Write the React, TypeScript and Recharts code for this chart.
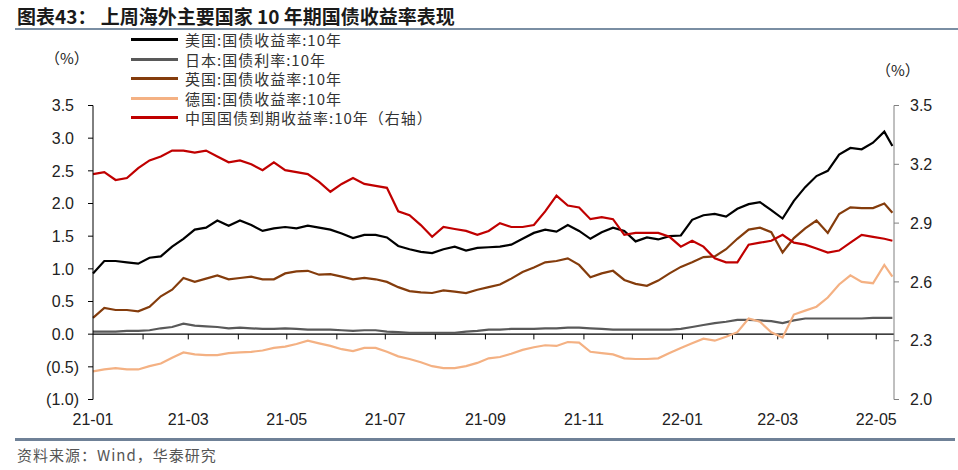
import { LineChart, Line, XAxis, YAxis, ReferenceLine, Legend } from "recharts";

// weekly samples, first point 2021-01-01, last point 2022-05-11
const startDate = "2021-01-01";
const lastDate = "2022-05-11";

const usYield = [
  0.93, 1.12, 1.12, 1.1, 1.08, 1.17, 1.19, 1.34, 1.46, 1.6, 1.63, 1.74, 1.66, 1.74, 1.67, 1.58, 1.62, 1.64,
  1.62, 1.66, 1.63, 1.6, 1.54, 1.47, 1.52, 1.52, 1.48, 1.35, 1.3, 1.26, 1.24, 1.3, 1.34, 1.28, 1.32, 1.33,
  1.34, 1.37, 1.46, 1.55, 1.6, 1.57, 1.67, 1.58, 1.46, 1.56, 1.63, 1.58, 1.42, 1.48, 1.45, 1.5, 1.51, 1.75,
  1.82, 1.84, 1.8, 1.92, 1.99, 2.02, 1.9, 1.77, 2.04, 2.25, 2.42, 2.5, 2.75, 2.85, 2.83, 2.93, 3.1, 2.88,
];
const japanYield = [
  0.04, 0.04, 0.04, 0.05, 0.05, 0.06, 0.09, 0.11, 0.16, 0.13, 0.12, 0.11, 0.09, 0.1, 0.09, 0.08, 0.08, 0.09,
  0.08, 0.07, 0.07, 0.07, 0.06, 0.05, 0.06, 0.06, 0.04, 0.03, 0.02, 0.02, 0.02, 0.02, 0.02, 0.04, 0.05, 0.07,
  0.07, 0.08, 0.08, 0.08, 0.09, 0.09, 0.1, 0.1, 0.09, 0.08, 0.07, 0.07, 0.07, 0.07, 0.07, 0.07, 0.08, 0.11,
  0.14, 0.17, 0.19, 0.22, 0.22, 0.21, 0.2, 0.17, 0.21, 0.24, 0.24, 0.24, 0.24, 0.24, 0.24, 0.25, 0.25, 0.25,
];
const ukYield = [
  0.25, 0.4, 0.37, 0.37, 0.35, 0.42, 0.58, 0.68, 0.86, 0.8, 0.85, 0.9, 0.84, 0.86, 0.88, 0.84, 0.84, 0.93,
  0.96, 0.97, 0.91, 0.92, 0.88, 0.84, 0.86, 0.84, 0.8, 0.72, 0.66, 0.64, 0.63, 0.67, 0.65, 0.63, 0.68, 0.72,
  0.76, 0.85, 0.95, 1.02, 1.1, 1.12, 1.16, 1.06, 0.87, 0.93, 0.97, 0.83, 0.77, 0.74, 0.82, 0.93, 1.03, 1.1,
  1.18, 1.19, 1.3, 1.46, 1.6, 1.63, 1.56, 1.25, 1.47, 1.62, 1.74, 1.55, 1.84, 1.94, 1.93, 1.93, 2.0, 1.86,
];
const germanyYield = [
  -0.57, -0.54, -0.52, -0.54, -0.54, -0.49, -0.45, -0.36, -0.28, -0.31, -0.32, -0.32, -0.29, -0.28, -0.27,
  -0.25, -0.21, -0.19, -0.15, -0.1, -0.14, -0.18, -0.23, -0.26, -0.21, -0.21, -0.27, -0.34, -0.38, -0.43,
  -0.49, -0.52, -0.52, -0.49, -0.44, -0.37, -0.35, -0.3, -0.24, -0.2, -0.17, -0.18, -0.12, -0.13, -0.27,
  -0.29, -0.31, -0.37, -0.38, -0.38, -0.37, -0.29, -0.21, -0.14, -0.07, -0.1, -0.04, 0.03, 0.24, 0.19, 0.03,
  -0.05, 0.3, 0.36, 0.42, 0.56, 0.76, 0.9, 0.8, 0.78, 1.06, 0.88,
];
const chinaYield = [
  3.15, 3.16, 3.12, 3.13, 3.18, 3.22, 3.24, 3.27, 3.27, 3.26, 3.27, 3.24, 3.21, 3.22, 3.2, 3.17, 3.21, 3.17,
  3.16, 3.15, 3.11, 3.06, 3.1, 3.13, 3.1, 3.09, 3.08, 2.96, 2.94, 2.89, 2.83, 2.88, 2.87, 2.86, 2.84, 2.86,
  2.9, 2.88, 2.88, 2.89, 2.96, 3.04, 2.99, 2.98, 2.92, 2.93, 2.92, 2.84, 2.85, 2.85, 2.85, 2.83, 2.78, 2.81,
  2.78, 2.72, 2.7, 2.7, 2.79, 2.8, 2.81, 2.84, 2.8, 2.79, 2.77, 2.75, 2.76, 2.8, 2.84, 2.83, 2.82, 2.81,
];

const seriesNames = [
  "美国:国债收益率:10年",
  "日本:国债利率:10年",
  "英国:国债收益率:10年",
  "德国:国债收益率:10年",
  "中国国债到期收益率:10年（右轴）",
];
const seriesColors = ["#000000", "#595959", "#843C0C", "#F4B183", "#C00000"];

const xTickLabels = ["21-01", "21-03", "21-05", "21-07", "21-09", "21-11", "22-01", "22-03", "22-05"];
const leftTicks = [-1, -0.5, 0, 0.5, 1, 1.5, 2, 2.5, 3, 3.5];
const rightTicks = [2.0, 2.3, 2.6, 2.9, 3.2, 3.5];

const DAY = 86400000;
const t0 = Date.parse(startDate);
const dayOf = (iso: string) => Math.round((Date.parse(iso) - t0) / DAY);
const lastDay = dayOf(lastDate);
const xDomainEnd = lastDay + 1;

const data = usYield.map((us, i) => ({
  day: i === usYield.length - 1 ? lastDay : i * 7,
  us,
  japan: japanYield[i],
  uk: ukYield[i],
  germany: germanyYield[i],
  china: chinaYield[i],
}));

const labelToDay = (lbl: string) => dayOf(`20${lbl}-01`);
const xTicks = xTickLabels.map(labelToDay);
const xLabelMap: Record<number, string> = {};
xTicks.forEach((d, i) => (xLabelMap[d] = xTickLabels[i]));

// month start ticks hanging below the zero line
const monthTickDays: number[] = [];
for (let m = 1; m <= 16; m++) {
  const y = 2021 + Math.floor(m / 12);
  const mm = String((m % 12) + 1).padStart(2, "0");
  monthTickDays.push(dayOf(`${y}-${mm}-01`));
}

const fmt = (v: number) => (v < 0 ? `(${Math.abs(v).toFixed(1)})` : v.toFixed(1));

const tickFont = "'Liberation Sans', Arial, sans-serif";
const cjkFont = "'Noto Sans CJK SC', 'Noto Sans', sans-serif";

const LeftTick = ({ x, y, payload }: any) => (
  <text
    x={x - (payload.value < 0 ? 0 : 5)}
    y={y}
    dy="0.355em"
    textAnchor="end"
    fontSize={16}
    fill="#222"
    fontFamily={tickFont}
  >
    {fmt(payload.value)}
  </text>
);

const renderLegend = (props: any) => {
  const items = [...(props.payload || [])].sort(
    (a: any, b: any) => seriesNames.indexOf(a.value) - seriesNames.indexOf(b.value)
  );
  return (
    <div style={{ fontFamily: cjkFont, fontSize: 15, color: "#333", letterSpacing: 1 }}>
      {items.map((entry: any) => (
        <div key={entry.value} style={{ display: "flex", alignItems: "center", height: 19.5 }}>
          <span style={{ display: "inline-block", width: 47, height: 3, background: entry.color, marginRight: 7 }} />
          <span style={{ whiteSpace: "nowrap" }}>{entry.value}</span>
        </div>
      ))}
    </div>
  );
};

export default function App() {
  const keys = ["us", "japan", "uk", "germany", "china"];
  return (
    <div style={{ position: "absolute", left: 0, top: 0, width: 958, height: 470, background: "#fff", overflow: "hidden" }}>
      <div
        style={{
          position: "absolute",
          left: 17,
          top: 2,
          fontFamily: cjkFont,
          fontWeight: 700,
          fontSize: 19,
          color: "#1a1a1a",
          whiteSpace: "nowrap",
        }}
      >
        图表43： 上周海外主要国家 10 年期国债收益率表现
      </div>
      <div style={{ position: "absolute", left: 15, top: 28, width: 943, height: 2, background: "#7a8ea3" }} />

      <div style={{ position: "absolute", left: 45, top: 47, fontFamily: cjkFont, fontSize: 15, color: "#222" }}>（%）</div>
      <div style={{ position: "absolute", left: 876, top: 59, fontFamily: cjkFont, fontSize: 15, color: "#222" }}>（%）</div>

      <LineChart width={958} height={470} data={data} margin={{ top: 105.5, right: 14, bottom: 40.5, left: 33 }}>
        <XAxis
          xAxisId="x"
          dataKey="day"
          type="number"
          domain={[0, xDomainEnd]}
          ticks={xTicks}
          tickFormatter={(d: number) => xLabelMap[d] ?? ""}
          axisLine={false}
          tickLine={false}
          tickSize={0}
          tickMargin={14}
          height={30}
          interval={0}
          tick={{ fontSize: 16, fill: "#222", fontFamily: tickFont }}
        />
        <YAxis
          yAxisId="left"
          domain={[-1, 3.5]}
          ticks={leftTicks}
          interval={0}
          width={60}
          stroke="#000"
          tickSize={5}
          tickMargin={9}
          tick={<LeftTick />}
        />
        <YAxis
          yAxisId="right"
          orientation="right"
          domain={[2.0, 3.5]}
          ticks={rightTicks}
          interval={0}
          width={50}
          stroke="#808080"
          tickSize={5}
          tickMargin={11}
          tickFormatter={(v: number) => v.toFixed(1)}
          tick={{ fontSize: 16, fill: "#222", fontFamily: tickFont }}
        />
        <ReferenceLine xAxisId="x" yAxisId="left" y={0} stroke="#000" strokeWidth={1.2} />
        {monthTickDays.map((d) => (
          <ReferenceLine
            key={d}
            xAxisId="x"
            yAxisId="left"
            segment={[
              { x: d, y: 0 },
              { x: d, y: -0.08 },
            ]}
            stroke="#000"
            strokeWidth={1}
          />
        ))}
        <Legend
          layout="vertical"
          align="center"
          verticalAlign="middle"
          itemSorter={null as any}
          content={renderLegend}
          wrapperStyle={{ left: 131, top: 30, width: 400 }}
        />
        {keys.map((k, i) => (
          <Line
            key={k}
            xAxisId="x"
            yAxisId={k === "china" ? "right" : "left"}
            dataKey={k}
            name={seriesNames[i]}
            stroke={seriesColors[i]}
            strokeWidth={2.2}
            dot={false}
            type="linear"
            isAnimationActive={false}
          />
        ))}
      </LineChart>

      <div style={{ position: "absolute", left: 15, top: 438, width: 940, height: 2.5, background: "#6f8197" }} />
      <div
        style={{
          position: "absolute",
          left: 17,
          top: 444,
          fontFamily: cjkFont,
          fontSize: 15,
          letterSpacing: 1,
          color: "#555",
          whiteSpace: "nowrap",
        }}
      >
        资料来源：Wind，华泰研究
      </div>
    </div>
  );
}
